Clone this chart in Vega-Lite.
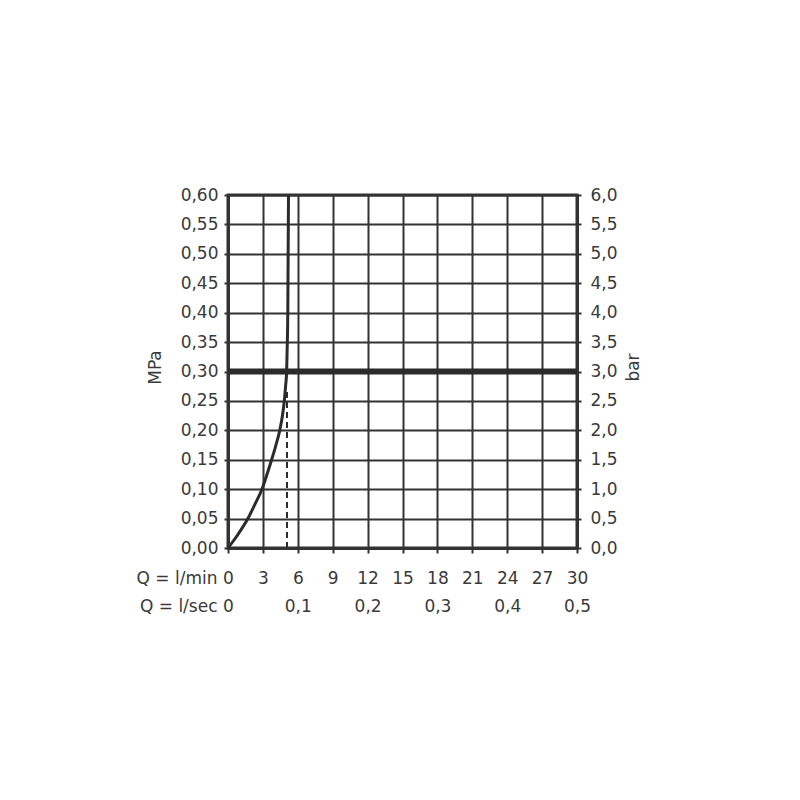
{
  "$schema": "https://vega.github.io/schema/vega-lite/v6.json",
  "description": "Flow rate vs pressure curve (MPa / bar against l/min and l/sec).",
  "width": 349,
  "height": 353,
  "autosize": "none",
  "padding": {"left": 228, "top": 195, "right": 223, "bottom": 252},
  "background": "white",
  "config": {
    "view": {"stroke": "#333333", "strokeWidth": 3},
    "font": "DejaVu Sans",
    "axis": {
      "labelFont": "DejaVu Sans",
      "labelFontSize": 17,
      "labelColor": "#3a3a3a",
      "titleFont": "DejaVu Sans",
      "titleFontSize": 17,
      "titleColor": "#3a3a3a",
      "titleFontWeight": "normal",
      "tickColor": "#333333",
      "tickWidth": 2,
      "domainColor": "#333333",
      "domainWidth": 3,
      "gridColor": "#333333",
      "gridWidth": 2,
      "gridOpacity": 1,
      "labelOverlap": false,
      "labelFlush": false
    }
  },
  "resolve": {"axis": {"x": "independent", "y": "independent"}},
  "layer": [
    {
      "data": {
        "values": [
          {"Q": 0, "p": 0},
          {"Q": 0.75, "p": 0.02},
          {"Q": 1.71, "p": 0.05},
          {"Q": 2.33, "p": 0.075},
          {"Q": 2.92, "p": 0.1},
          {"Q": 3.35, "p": 0.125},
          {"Q": 3.75, "p": 0.15},
          {"Q": 4.12, "p": 0.175},
          {"Q": 4.45, "p": 0.2},
          {"Q": 4.68, "p": 0.225},
          {"Q": 4.84, "p": 0.25},
          {"Q": 4.95, "p": 0.275},
          {"Q": 5.04, "p": 0.3},
          {"Q": 5.1, "p": 0.35},
          {"Q": 5.14, "p": 0.4},
          {"Q": 5.17, "p": 0.5},
          {"Q": 5.2, "p": 0.6}
        ]
      },
      "mark": {"type": "line", "interpolate": "monotone", "color": "#2b2b2b", "strokeWidth": 3},
      "encoding": {
        "x": {
          "field": "Q",
          "type": "quantitative",
          "scale": {"domain": [0, 30], "nice": false, "zero": false},
          "axis": {
            "values": [0, 3, 6, 9, 12, 15, 18, 21, 24, 27, 30],
            "title": "Q = l/min",
            "titleAngle": 0,
            "titleX": -11,
            "titleY": 30,
            "titleAlign": "right",
            "titleBaseline": "middle",
            "grid": true,
            "tickSize": 5,
            "labelPadding": 25,
            "labelBaseline": "middle",
            "labelDx": 3,
            "format": "d"
          }
        },
        "y": {
          "field": "p",
          "type": "quantitative",
          "scale": {"domain": [0, 0.6], "nice": false, "zero": false},
          "axis": {
            "values": [0, 0.05, 0.1, 0.15, 0.2, 0.25, 0.3, 0.35, 0.4, 0.45, 0.5, 0.55, 0.6],
            "labelExpr": "replace(format(datum.value, '.2f'), '.', ',')",
            "title": "MPa",
            "titleAngle": -90,
            "titleX": -73,
            "titleY": 172,
            "titleAlign": "center",
            "titleBaseline": "middle",
            "grid": true,
            "tickSize": 4,
            "labelPadding": 6
          }
        }
      }
    },
    {
      "data": {"values": [{"p": 0.3}]},
      "mark": {"type": "rule", "color": "#2b2b2b", "strokeWidth": 6},
      "encoding": {
        "y": {"field": "p", "type": "quantitative", "axis": null}
      }
    },
    {
      "data": {"values": [{"Q": 5.07, "p": 0, "p2": 0.266}]},
      "mark": {"type": "rule", "color": "#2b2b2b", "strokeWidth": 2, "strokeDash": [6, 4]},
      "encoding": {
        "x": {"field": "Q", "type": "quantitative", "axis": null},
        "y": {"field": "p", "type": "quantitative", "axis": null},
        "y2": {"field": "p2"}
      }
    },
    {
      "data": {"values": [{"Q": 0, "p": 0}]},
      "mark": {"type": "point", "opacity": 0},
      "encoding": {
        "x": {
          "field": "Q",
          "type": "quantitative",
          "axis": {
            "orient": "bottom",
            "offset": 28,
            "values": [0, 6, 12, 18, 24, 30],
            "labelExpr": "datum.value == 0 ? '0' : replace(format(datum.value / 60, '.1f'), '.', ',')",
            "title": "Q = l/sec",
            "titleAngle": 0,
            "titleX": -11,
            "titleY": 30,
            "titleAlign": "right",
            "titleBaseline": "middle",
            "grid": false,
            "domain": false,
            "tickSize": 5,
            "tickColor": "transparent",
            "labelPadding": 25,
            "labelBaseline": "middle",
            "labelDx": 3
          }
        },
        "y": {
          "field": "p",
          "type": "quantitative",
          "axis": {
            "orient": "right",
            "values": [0, 0.05, 0.1, 0.15, 0.2, 0.25, 0.3, 0.35, 0.4, 0.45, 0.5, 0.55, 0.6],
            "labelExpr": "replace(format(datum.value * 10, '.1f'), '.', ',')",
            "title": "bar",
            "titleAngle": -90,
            "titleX": 56,
            "titleY": 172,
            "titleAlign": "center",
            "titleBaseline": "middle",
            "grid": false,
            "tickSize": 4,
            "labelPadding": 9
          }
        }
      }
    }
  ]
}
